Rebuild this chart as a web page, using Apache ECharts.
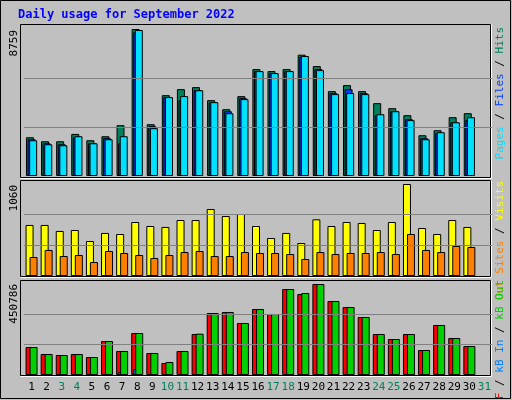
<!DOCTYPE html>
<html>
<head>
<meta charset="utf-8">
<script src="https://cdn.jsdelivr.net/npm/echarts@6/dist/echarts.min.js"></script>
<style>html,body{margin:0;padding:0;background:#c0c0c0}#chart{width:512px;height:400px}</style>
</head>
<body>
<div id="chart"></div>
<script>
// Daily usage, September 2022 (day 31 has no data yet)
const days = Array.from({length: 31}, (_, i) => String(i + 1));
const weekend = ['3', '4', '10', '11', '17', '18', '24', '25', '31'];

const hits  = [2309, 2070, 2070, 2508, 2130, 2369, 3026, 8759, 3086, 4817, 5176, 5295, 4519, 3981, 4758, 6370, 6251, 6370, 7226, 6549, 5056, 5415, 5056, 4340, 4041, 3623, 2429, 2727, 3504, 3742];
const files = [2190, 1950, 1890, 2310, 1950, 2250, 1950, 8560, 2970, 4700, 4520, 5110, 4380, 3860, 4640, 6250, 6130, 6250, 7110, 6370, 4940, 5170, 4940, 3620, 3860, 3380, 2250, 2550, 3200, 3330];
const pages = [2130, 1890, 1830, 2370, 1950, 2190, 2370, 8700, 2850, 4700, 4760, 5110, 4400, 3740, 4580, 6250, 6130, 6250, 7150, 6310, 4880, 4940, 4880, 3680, 3860, 3330, 2190, 2610, 3200, 3500];

const visits = [588, 588, 519, 530, 403, 496, 484, 622, 576, 565, 645, 645, 772, 691, 714, 576, 438, 496, 380, 653, 576, 622, 611, 530, 622, 1060, 553, 484, 645, 565];
const sites  = [219, 300, 230, 242, 161, 288, 265, 242, 207, 242, 276, 288, 230, 230, 276, 265, 265, 253, 196, 276, 253, 265, 265, 276, 253, 484, 300, 276, 346, 334];

const kbF   = [138700, 104000, 99070, 104000, 89160, 168400, 118900, 208000, 109000, 59440, 118900, 203100, 307100, 312100, 257600, 326900, 302200, 426000, 401200, 450786, 366600, 336900, 287400, 203100, 178300, 203100, 123800, 247700, 183300, 143600];
const kbIn  = [500, 400, 400, 400, 400, 500, 14900, 29700, 400, 300, 400, 500, 600, 600, 600, 600, 600, 700, 700, 700, 600, 600, 600, 500, 500, 500, 400, 500, 500, 400];
const kbOut = [138700, 104000, 99070, 104000, 89160, 168400, 118900, 208000, 109000, 64400, 118900, 204700, 307100, 312100, 257600, 326900, 302200, 426000, 406100, 450786, 366600, 336900, 287400, 203100, 178300, 203100, 123800, 247700, 183300, 143600];

const topMax = 8759, midMax = 1060, botMax = 450786;

const chart = echarts.init(document.getElementById('chart'));
const mono = 'DejaVu Sans Mono';
const grids = [
  {left: 24, right: 20, top: 29, height: 147},
  {left: 24, right: 20, top: 184, height: 92},
  {left: 24, right: 20, top: 284, height: 91}
];

function xAxis(i, labels) {
  return {
    type: 'category', gridIndex: i, data: days,
    axisLine: {show: false}, axisTick: {show: false},
    axisLabel: labels ? {
      show: true, margin: 7, fontFamily: mono, fontSize: 11, interval: 0,
      formatter: d => weekend.includes(d) ? '{w|' + d + '}' : '{n|' + d + '}',
      rich: {n: {color: '#000', fontFamily: mono, fontSize: 11}, w: {color: '#00805c', fontFamily: mono, fontSize: 11}}
    } : {show: false}
  };
}
function yAxis(i, max) {
  return {type: 'value', gridIndex: i, min: 0, max: max, axisLabel: {show: false}, axisLine: {show: false}, axisTick: {show: false}, splitLine: {show: false}};
}
function guide(max) {
  return {silent: true, symbol: 'none', label: {show: false}, lineStyle: {color: '#808080', type: 'solid', width: 1},
    data: [{yAxis: max / 3}, {yAxis: max * 2 / 3}]};
}
function bar(name, data, i, color, width, gap, extra) {
  return Object.assign({
    name: name, type: 'bar', data: data, xAxisIndex: i, yAxisIndex: i,
    barWidth: width, barGap: gap, animation: false,
    itemStyle: {color: color, borderColor: '#000', borderWidth: 1}
  }, extra || {});
}

function frame(x, y, w, h) {
  return [
    {type: 'rect', shape: {x: x, y: y, width: w, height: h}, style: {fill: 'none', stroke: '#000', lineWidth: 1}},
    {type: 'polyline', shape: {points: [[x + w + 1, y], [x + w + 1, y + h + 1], [x, y + h + 1]]}, style: {fill: 'none', stroke: '#fff', lineWidth: 1}}
  ];
}
function sideLabel(x, y, text) {
  return {type: 'text', x: x, y: y, rotation: Math.PI / 2,
    style: {text: text, align: 'right', verticalAlign: 'middle', fontFamily: mono, fontSize: 11, fill: '#000'}};
}
function rightLabel(y, parts) {
  const rich = {};
  let text = '';
  parts.forEach((p, k) => {
    rich['p' + k] = {fill: p[1], fontFamily: mono, fontSize: 11};
    text += '{p' + k + '|' + p[0] + '}';
  });
  return {type: 'text', x: 500, y: y, rotation: Math.PI / 2,
    style: {text: text, rich: rich, align: 'right', verticalAlign: 'middle', fontFamily: mono, fontSize: 11}};
}

chart.setOption({
  backgroundColor: '#c0c0c0',
  animation: false,
  grid: grids,
  xAxis: [xAxis(0, false), xAxis(1, false), xAxis(2, true)],
  yAxis: [yAxis(0, topMax), yAxis(1, midMax), yAxis(2, botMax)],
  series: [
    bar('Hits', hits, 0, '#00805c', 8, '-80%', {markLine: guide(topMax)}),
    bar('Files', files, 0, '#0040ff', 8, '-80%'),
    bar('Pages', pages, 0, '#00e0ff', 8, '-80%'),
    bar('Visits', visits, 1, '#ffff00', 8, '-50%', {markLine: guide(midMax)}),
    bar('Sites', sites, 1, '#ff8000', 8, '-50%'),
    bar('kB F', kbF, 2, '#ff0000', 8, '-75%', {markLine: guide(botMax)}),
    bar('kB In', kbIn, 2, '#0080ff', 8, '-75%'),
    bar('kB Out', kbOut, 2, '#00d000', 8, '-75%')
  ],
  graphic: [
    {type: 'rect', shape: {x: 0.5, y: 0.5, width: 510, height: 398}, style: {fill: 'none', stroke: '#000', lineWidth: 1}},
    {type: 'text', x: 18, y: 9, style: {text: 'Daily usage for September 2022', fontFamily: mono, fontSize: 12, fontWeight: 'bold', fill: '#0000ff'}},
    ...frame(20.5, 24.5, 470, 153),
    ...frame(20.5, 180.5, 470, 96),
    ...frame(20.5, 280.5, 470, 95),
    sideLabel(14, 30, String(topMax)),
    sideLabel(14, 185, String(midMax)),
    sideLabel(14, 284, String(botMax)),
    rightLabel(27, [['Pages', '#00e0ff'], [' / ', '#000'], ['Files', '#0040ff'], [' / ', '#000'], ['Hits', '#00805c']]),
    rightLabel(181, [['Out Sites', '#ff8000'], [' / ', '#000'], ['Visits', '#ffff00']]),
    rightLabel(280, [['kB F', '#ff0000'], [' / ', '#000'], ['kB In', '#0080ff'], [' / ', '#000'], ['kB Out', '#00d000']])
  ]
});
</script>
</body>
</html>
